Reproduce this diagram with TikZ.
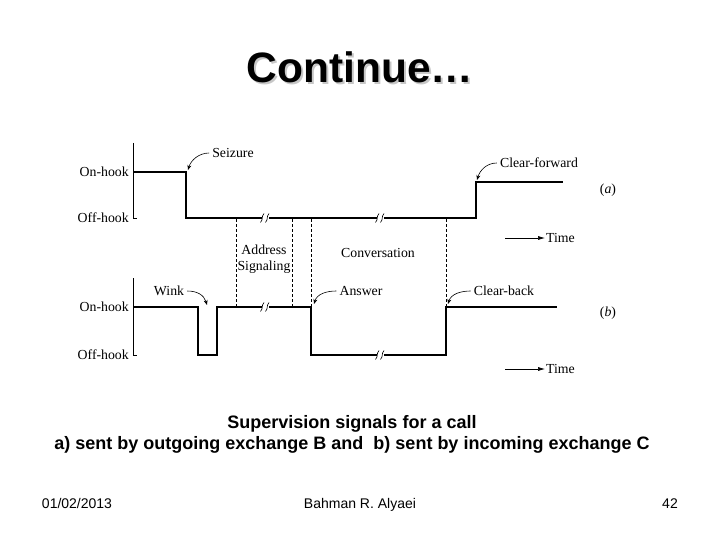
\documentclass[tikz,border=0pt]{standalone}
\usepackage{fontspec}
\setmainfont{Liberation Serif}
\newfontfamily\arialf{Liberation Sans}
\usetikzlibrary{arrows.meta}
\begin{document}
\begin{tikzpicture}[x=1pt,y=-1pt,
  wave/.style={line width=1.6pt,line join=miter},
  axisline/.style={line width=0.8pt},
  dashline/.style={dashed,line width=0.5pt,dash pattern=on 3pt off 2pt},
  lbl/.style={font=\fontsize{13.8}{15.5}\selectfont,inner sep=1pt},
  callout/.style={line width=0.6pt,-{Stealth[length=5pt,width=4pt]}},
  timearrow/.style={line width=0.6pt,-{Latex[length=7pt,width=4pt]}},
  foot/.style={font=\arialf\fontsize{14}{16}\selectfont,anchor=base},
  brk/.pic={\fill[white] (-3.5,-3) rectangle (3.5,3);
    \draw[line width=0.6pt] (-4.5,4.5) .. controls (-1.5,1) and (-4,-1) .. (-1,-4.5);
    \draw[line width=0.6pt] (0.5,4.5) .. controls (3.5,1) and (1,-1) .. (4,-4.5);}
  ]
\useasboundingbox (0,0) rectangle (720,540);
\fill[white] (0,0) rectangle (720,540);

% title with shadow
\node[font=\arialf\bfseries\fontsize{42.5}{46}\selectfont] (title) at (360,68)
  {\makebox[0pt][l]{\hspace{2pt}\raisebox{-2pt}{\color{black!22}Continue…}}Continue…};

% axes (a)
\coordinate (aT) at (133,143);
\coordinate (aB) at (133,218);
\coordinate (aBt) at (137,218);
\draw[axisline] (aT) -- (aB) -- (aBt);
\node[lbl,anchor=east] (onA) at (130,172) {On-hook};
\node[lbl,anchor=east] (offA) at (130,218) {Off-hook};

% waveform (a)
\coordinate (a0) at (133,172);
\coordinate (a1) at (186,172);
\coordinate (a2) at (186,218);
\coordinate (a3) at (476,218);
\coordinate (a4) at (476,182);
\coordinate (a5) at (563,182);
\draw[wave] (a0) -- (a1) -- (a2) -- (a3) -- (a4) -- (a5);
\pic at (265,218) {brk};
\pic at (380,218) {brk};

% axes (b)
\coordinate (bT) at (133,278);
\coordinate (bB) at (133,355);
\coordinate (bBt) at (137,355);
\draw[axisline] (bT) -- (bB) -- (bBt);
\node[lbl,anchor=east] (onB) at (130,307) {On-hook};
\node[lbl,anchor=east] (offB) at (130,355) {Off-hook};

% waveform (b)
\coordinate (b0) at (133,307);
\coordinate (b1) at (198,307);
\coordinate (b2) at (198,355);
\coordinate (b3) at (217,355);
\coordinate (b4) at (217,307);
\coordinate (b5) at (311,307);
\coordinate (b6) at (311,355);
\coordinate (b7) at (446,355);
\coordinate (b8) at (446,307);
\coordinate (b9) at (557,307);
\draw[wave] (b0) -- (b1) -- (b2) -- (b3) -- (b4) -- (b5) -- (b6) -- (b7) -- (b8) -- (b9);
\pic at (265,307) {brk};
\pic at (380,355) {brk};

% dashed separators
\coordinate (d1t) at (236,219); \coordinate (d1b) at (236,306);
\coordinate (d2t) at (292,219); \coordinate (d2b) at (292,306);
\coordinate (d3t) at (311,219); \coordinate (d3b) at (311,306);
\coordinate (d4t) at (446,219); \coordinate (d4b) at (446,306);
\draw[dashline] (d1t) -- (d1b);
\draw[dashline] (d2t) -- (d2b);
\draw[dashline] (d3t) -- (d3b);
\draw[dashline] (d4t) -- (d4b);

% labels
\node[lbl] (seiz) at (233,153) {Seizure};
\node[lbl] (clf) at (539,163) {Clear-forward};
\node[lbl] (pa) at (608,190) {(\textit{a})};
\node[lbl,align=center] (addr) at (264,259) {Address\\Signaling};
\node[lbl] (conv) at (378,253) {Conversation};
\node[lbl] (wink) at (169,291) {Wink};
\node[lbl] (ans) at (361,291) {Answer};
\node[lbl] (clb) at (504,291) {Clear-back};
\node[lbl] (pb) at (608,313) {(\textit{b})};

% callout arrows
\coordinate (seizT) at (188,170);
\coordinate (clfT) at (477,180);
\coordinate (winkT) at (207,305);
\coordinate (ansT) at (314,304);
\coordinate (clbT) at (448,304);
\draw[callout] ([xshift=-2pt]seiz.west) .. controls +(-10,0) and +(3,-10) .. (seizT);
\draw[callout] ([xshift=-2pt]clf.west) .. controls +(-10,0) and +(3,-10) .. (clfT);
\draw[callout] ([xshift=2pt]wink.east) .. controls +(10,0) and +(-3,-10) .. (winkT);
\draw[callout] ([xshift=-2pt]ans.west) .. controls +(-10,0) and +(3,-10) .. (ansT);
\draw[callout] ([xshift=-2pt]clb.west) .. controls +(-10,0) and +(3,-10) .. (clbT);

% time arrows
\node[lbl,anchor=west] (timeA) at (545,238) {Time};
\node[lbl,anchor=west] (timeB) at (545,369) {Time};
\coordinate (tA) at (505,238);
\coordinate (tB) at (505,369);
\draw[timearrow] (tA) -- (timeA.west);
\draw[timearrow] (tB) -- (timeB.west);

% caption
\node[font=\arialf\bfseries\fontsize{18}{21}\selectfont,align=center] (cap) at (352,434)
  {Supervision signals for a call\\a) sent by outgoing exchange B and\ \ b) sent by incoming exchange C};

% footer
\node[foot] (date) at (77,508) {01/02/2013};
\node[foot] (auth) at (360,508) {Bahman R. Alyaei};
\node[foot] (page) at (670,508) {42};
\end{tikzpicture}
\end{document}
